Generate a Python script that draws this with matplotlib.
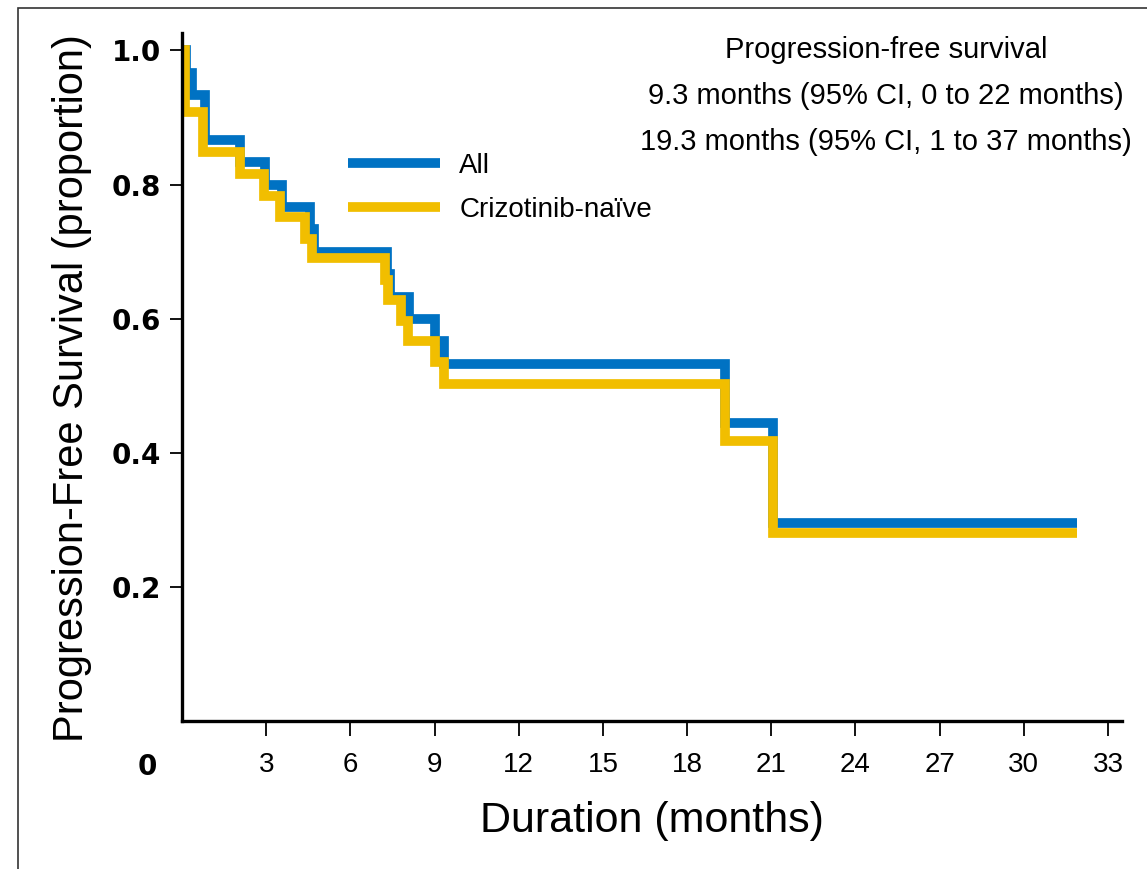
import matplotlib
matplotlib.use('Agg')
import matplotlib.pyplot as plt
from matplotlib.patches import Rectangle

# Kaplan-Meier step values (months, proportion progression-free)
t_all = [0, 0.15, 0.35, 0.82, 2.05, 2.97, 3.55, 4.55, 4.72, 7.3, 7.4, 8.1, 9.0, 9.35, 19.35, 21.05, 31.9]
s_all = [1.0, 0.967, 0.933, 0.867, 0.833, 0.800, 0.767, 0.733, 0.700, 0.667, 0.633, 0.600, 0.567, 0.533, 0.444, 0.296, 0.296]

t_naive = [0, 0.12, 0.75, 2.05, 2.92, 3.5, 4.4, 4.65, 7.25, 7.35, 7.8, 8.05, 9.0, 9.35, 19.35, 21.05, 31.9]
s_naive = [1.0, 0.908, 0.849, 0.816, 0.783, 0.752, 0.719, 0.691, 0.658, 0.628, 0.597, 0.567, 0.535, 0.502, 0.418, 0.281, 0.281]

x_ticks = [3, 6, 9, 12, 15, 18, 21, 24, 27, 30, 33]
y_ticks = [0.2, 0.4, 0.6, 0.8, 1.0]

summary = ['Progression-free survival',
           '9.3 months (95% CI, 0 to 22 months)',
           '19.3 months (95% CI, 1 to 37 months)']

BLUE = '#0072c3'
GOLD = '#f1be00'
sans = 'Liberation Sans'

fig = plt.figure(figsize=(11.47, 8.69), dpi=100)
ax = fig.add_axes([182/1147, 1 - 721/869, 940/1147, 688/869])

ax.step(t_all, s_all, where='post', color=BLUE, lw=7, label='All',
        solid_capstyle='butt', solid_joinstyle='miter')
ax.step(t_naive, s_naive, where='post', color=GOLD, lw=7, label='Crizotinib-naïve',
        solid_capstyle='butt', solid_joinstyle='miter')

ax.set_xlim(0, 33.5)
ax.set_ylim(0, 1.026)
for side in ['top', 'right']:
    ax.spines[side].set_visible(False)
for side in ['left', 'bottom']:
    ax.spines[side].set_linewidth(2.4)

ax.set_yticks(y_ticks)
ax.set_yticklabels(['%.1f' % v for v in y_ticks], family='DejaVu Sans',
                   fontweight='bold', fontsize=20)
ax.tick_params(axis='y', length=9, width=1.3, pad=6)
ax.set_xticks(x_ticks)
ax.set_xticklabels([str(v) for v in x_ticks], family=sans, fontsize=20)
ax.tick_params(axis='x', length=11, width=1.3, pad=11)

# shared origin label
ax.annotate('0', xy=(0, 0), xytext=(-25, -33), textcoords='offset points',
            ha='center', va='center', fontsize=20, fontweight='bold',
            family='DejaVu Sans')

ax.set_xlabel('Duration (months)', family=sans, fontsize=31, labelpad=17)
ax.set_ylabel('Progression-Free Survival (proportion)', family=sans,
              fontsize=30, labelpad=14)
ax.yaxis.label.set_y(0.484)

leg = ax.legend(loc='upper left', bbox_to_anchor=(0.165, 0.842), frameon=False,
                prop={'family': sans, 'size': 20},
                handlelength=3.3, handletextpad=0.7, labelspacing=0.65,
                borderaxespad=0)
for ln in leg.get_lines():
    ln.set_linewidth(7)
    ln.set_solid_capstyle('butt')

for i, line in enumerate(summary):
    fig.text(886/1147, 1 - (50 + 46*i)/869, line, ha='center', va='center',
             family=sans, fontsize=21)

# thin border round the figure
fig.patches.append(Rectangle((18/1147, -0.05), 1.1, 1 - 8/869 + 0.05,
                             transform=fig.transFigure, fill=False,
                             edgecolor='#333333', lw=1.2))

plt.savefig('out.png', dpi=100)
